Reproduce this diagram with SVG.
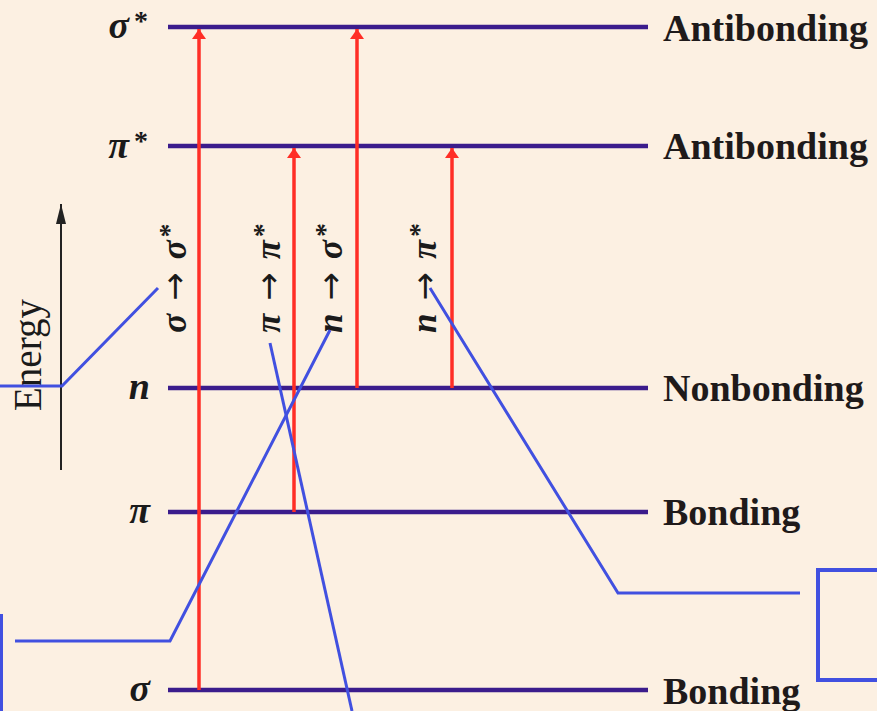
<svg xmlns="http://www.w3.org/2000/svg" width="877" height="711" viewBox="0 0 877 711">
<defs>
<style>
.bg{fill:#fcf0e2}
.lvl{stroke:#3b1c8c;stroke-width:4.5;fill:none}
.sym{font-family:"Liberation Serif",serif;font-style:italic;font-weight:bold;font-size:38px;fill:#1a1a1a}
.sup{font-size:28px;font-style:normal}
.name{font-family:"Liberation Serif",serif;font-weight:bold;font-size:38px;fill:#1f1a1a}
.tr{stroke:#ff2e26;stroke-width:3.5;fill:none}
.trl{font-family:"Liberation Serif",serif;font-style:italic;font-weight:bold;font-size:35px;fill:#1a1a1a}
.arr{font-family:"DejaVu Sans",sans-serif;font-style:normal;font-weight:normal;font-size:34px}
.call{stroke:#4150e0;stroke-width:3;fill:none}
.axis{stroke:#222;stroke-width:2;fill:none}
</style>
<marker id="ra" viewBox="0 0 10 14" refX="10" refY="7" markerWidth="10" markerHeight="14" markerUnits="userSpaceOnUse" orient="auto">
<path d="M0,0 L10,7 L0,14 Z" fill="#ff2e26"/>
</marker>
<marker id="ka" viewBox="0 0 20 10" refX="20" refY="5" markerWidth="20" markerHeight="10" markerUnits="userSpaceOnUse" orient="auto">
<path d="M0,0 L20,5 L0,10 Z" fill="#222"/>
</marker>
</defs>
<rect class="bg" x="0" y="0" width="877" height="711"/>

<g id="energy-axis">
<line class="axis" x1="61" y1="470" x2="61" y2="204" marker-end="url(#ka)"/>
<text x="41" y="355" transform="rotate(-90 41 355)" text-anchor="middle" font-family="Liberation Serif,serif" font-size="39" fill="#1a1a1a">Energy</text>
</g>

<g id="level-sigma-star">
<line class="lvl" x1="168" y1="27" x2="648" y2="27"/>
<text class="sym" x="148" y="38" text-anchor="end">σ<tspan class="sup" dx="5" dy="-8">*</tspan></text>
<text class="name" x="663" y="41">Antibonding</text>
</g>
<g id="level-pi-star">
<line class="lvl" x1="168" y1="146" x2="648" y2="146"/>
<text class="sym" x="148" y="158" text-anchor="end">π<tspan class="sup" dx="5" dy="-8">*</tspan></text>
<text class="name" x="663" y="159">Antibonding</text>
</g>
<g id="level-n">
<line class="lvl" x1="168" y1="388" x2="648" y2="388"/>
<text class="sym" x="150" y="399" text-anchor="end">n</text>
<text class="name" x="663" y="401">Nonbonding</text>
</g>
<g id="level-pi">
<line class="lvl" x1="168" y1="512" x2="648" y2="512"/>
<text class="sym" x="150" y="523" text-anchor="end">π</text>
<text class="name" x="663" y="525">Bonding</text>
</g>
<g id="level-sigma">
<line class="lvl" x1="168" y1="690" x2="648" y2="690"/>
<text class="sym" x="150" y="701" text-anchor="end">σ</text>
<text class="name" x="663" y="704">Bonding</text>
</g>

<g id="transitions">
<line class="tr" x1="199" y1="690" x2="199" y2="29" marker-end="url(#ra)"/>
<line class="tr" x1="294" y1="512" x2="294" y2="148" marker-end="url(#ra)"/>
<line class="tr" x1="357" y1="388" x2="357" y2="29" marker-end="url(#ra)"/>
<line class="tr" x1="452" y1="388" x2="452" y2="148" marker-end="url(#ra)"/>
<text class="trl" x="186" y="278" transform="rotate(-90 186 278)" text-anchor="middle">σ<tspan class="arr" dx="13">→</tspan><tspan dx="13">σ</tspan><tspan class="sup" dx="3" dy="-8">*</tspan></text>
<text class="trl" x="280" y="278" transform="rotate(-90 280 278)" text-anchor="middle">π<tspan class="arr" dx="13">→</tspan><tspan dx="13">π</tspan><tspan class="sup" dx="3" dy="-8">*</tspan></text>
<text class="trl" x="342" y="278" transform="rotate(-90 342 278)" text-anchor="middle">n<tspan class="arr" dx="13">→</tspan><tspan dx="13">σ</tspan><tspan class="sup" dx="3" dy="-8">*</tspan></text>
<text class="trl" x="436" y="278" transform="rotate(-90 436 278)" text-anchor="middle">n<tspan class="arr" dx="13">→</tspan><tspan dx="13">π</tspan><tspan class="sup" dx="3" dy="-8">*</tspan></text>
</g>

<g id="connectors">
<polyline class="call" points="0,386 62,386 158,288"/>
<polyline class="call" points="15,641 170,641 330,330"/>
<polyline class="call" points="270,343 352,711"/>
<polyline class="call" points="430,288 618,593 800,593"/>
</g>

<g id="box-left">
<line stroke="#4150e0" stroke-width="4" x1="1" y1="614" x2="1" y2="711"/>
</g>
<g id="box-right">
<rect x="818" y="570" width="100" height="110" fill="none" stroke="#4150e0" stroke-width="4"/>
</g>
</svg>
